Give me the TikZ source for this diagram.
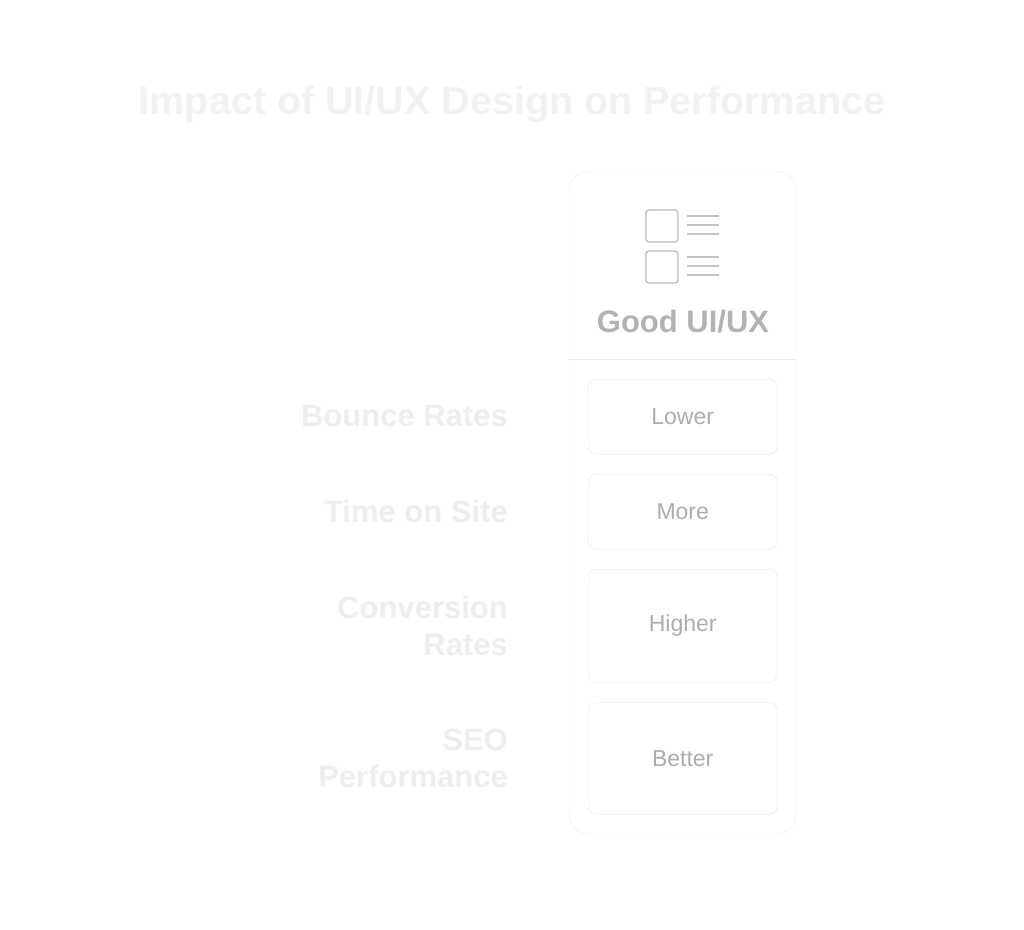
\documentclass[tikz,border=0pt]{standalone}
\usepackage{fontspec}
\setmainfont{Liberation Sans}
\begin{document}
\begin{tikzpicture}[x=1pt,y=-1pt,
  lbl/.style={anchor=east,align=right,inner sep=0pt,text=gray!13,font=\bfseries\fontsize{31}{37}\selectfont},
  valbox/.style={draw=gray!22,rounded corners=8pt,minimum width=189pt,anchor=north west,inner sep=0pt,text=gray!65,font=\fontsize{23}{26}\selectfont},
  ico/.style={draw=gray!55,line width=1.2pt,rounded corners=3pt},
  icl/.style={draw=gray!45,line width=1.2pt}]
\useasboundingbox (0,0) rectangle (1024,929);
\node (title) at (512,104) {\bfseries\fontsize{39.5}{44}\selectfont\color{gray!10}Impact of UI/UX Design on Performance};
\draw[draw=gray!15,rounded corners=20pt] (569,171) rectangle (796,834);
\coordinate (sl) at (569,359); \coordinate (sr) at (796,359);
\draw[gray!15] (sl) -- (sr);
\draw[ico] (646,210) rectangle (678,242);
\draw[ico] (646,251) rectangle (678,283);
\foreach \y in {216,225,234,257,266,275} \draw[icl] (687,\y) -- (719,\y);
\node (good) at (683,322) {\bfseries\fontsize{31}{34}\selectfont\color{gray!60}Good UI/UX};
\node[valbox,minimum height=75pt] (b1) at (588,379) {Lower};
\node[valbox,minimum height=75pt] (b2) at (588,474) {More};
\node[valbox,minimum height=113pt] (b3) at (588,569) {Higher};
\node[valbox,minimum height=112pt] (b4) at (588,702) {Better};
\node[lbl] (l1) at (508,416) {Bounce Rates};
\node[lbl] (l2) at (508,511) {Time on Site};
\node[lbl] (l3) at (508,626) {Conversion\\Rates};
\node[lbl] (l4) at (508,758) {SEO\\Performance};
\end{tikzpicture}
\end{document}
